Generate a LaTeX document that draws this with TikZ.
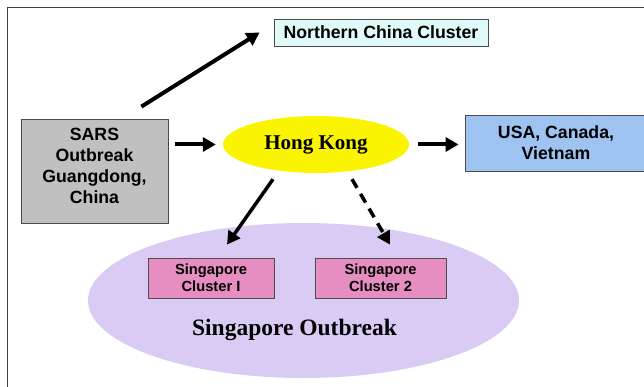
\documentclass[tikz,border=0pt]{standalone}
\usepackage{fontspec}
\setmainfont{Liberation Serif}
\setsansfont{Liberation Sans}
\definecolor{mygray}{RGB}{192,192,192}
\definecolor{mycyan}{RGB}{224,250,250}
\definecolor{myyellow}{RGB}{250,244,0}
\definecolor{myblue}{RGB}{158,195,240}
\definecolor{mylavender}{RGB}{218,203,245}
\definecolor{mypink}{RGB}{230,142,194}
\usetikzlibrary{arrows.meta,positioning,calc,shapes.geometric}

\begin{document}
\begin{tikzpicture}[
  x=1pt, y=-1pt,
  mybox/.style={
    draw=black!70,
    line width=0.8pt,
    rectangle,
    align=center,
    inner sep=0pt,
    font=\sffamily\bfseries\fontsize{17.7}{20.8}\selectfont
    },
  myclust/.style={
    mybox,
    fill=mypink,
    minimum height=40pt,
    font=\sffamily\bfseries\fontsize{14.7}{16.7}\selectfont
    },
  myarrow/.style={
    line width=4pt,
    -{Triangle[length=13pt,width=14pt]}
    }
]
\useasboundingbox (0,0) rectangle (644,387);
\draw[black!75, line width=0.8pt] (7,387) -- (7,7) -- (644,7);

\node[ellipse, fill=mylavender, minimum width=431pt, minimum height=155pt] (sgout) at (303.5,300.5) {};
\node[font=\bfseries\fontsize{23.5}{26}\selectfont] (sgtext) at (294.5,330) {Singapore Outbreak};

\node[mybox, fill=mycyan, minimum width=214pt, minimum height=27pt] (ncc) at (381,32.5) {Northern China Cluster};
\node[mybox, fill=mygray, minimum width=147pt, minimum height=104pt] (sars) at (94.5,171) {};
\node[align=center, font=\sffamily\bfseries\fontsize{17.7}{20.8}\selectfont] (sarstext) at (94.5,166) {SARS\\Outbreak\\Guangdong,\\China};
\node[ellipse, fill=myyellow, minimum width=186pt, minimum height=57pt, font=\bfseries\fontsize{21}{24}\selectfont] (hk) at (316,144.5) {Hong Kong};
\node[mybox, fill=myblue, minimum width=182pt, minimum height=56pt] (usa) at (556,143) {USA, Canada,\\Vietnam};

\node[myclust, minimum width=126pt] (clust1) at (211,278) {Singapore\\Cluster I};
\node[myclust, minimum width=131pt] (clust2) at (380.5,278) {Singapore\\Cluster 2};

% spread from Guangdong
\draw[myarrow] ([xshift=-27pt,yshift=12pt]sars.north east) -- ([xshift=-14pt]ncc.west);
\draw[myarrow, shorten <=7pt, shorten >=7pt] (sars.east |- hk.west) -- (hk.west);
\draw[myarrow, shorten <=9pt, shorten >=6pt] (hk.east) -- (usa.west |- hk.east);

% spread to Singapore
\draw[myarrow, line width=3.5pt] ([xshift=-43pt,yshift=-6pt]hk.south) -- ([xshift=16pt,yshift=13pt]clust1.north);
\draw[myarrow, line width=3.5pt, dash pattern=on 10pt off 7pt] ([xshift=36pt,yshift=-6pt]hk.south) -- ([xshift=9.5pt,yshift=13pt]clust2.north);
\end{tikzpicture}
\end{document}
